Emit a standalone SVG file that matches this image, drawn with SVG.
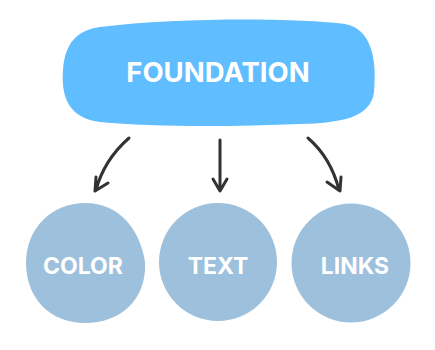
<svg xmlns="http://www.w3.org/2000/svg" width="435" height="350" viewBox="0 0 435 350">
<style>
.lbl{font-family:Inter,"Noto Sans",sans-serif;font-weight:700;fill:#fff;text-anchor:middle}
.sub{fill:#9dc0dc}
.arr{fill:none;stroke:#333;stroke-width:3;stroke-linecap:round;stroke-linejoin:round}
</style>
<rect width="435" height="350" fill="#fff"/>
<g id="foundation">
<path d="M100 27 C180 17 300 18 345 24 C372 29 377 60 374 92 C371 118 340 123 300 124 C230 127 150 127 100 122 C68 118 61 96 63 70 C65 42 78 30 100 27 Z" fill="#60bdff"/>
<text class="lbl" x="218" y="82" font-size="27.5">FOUNDATION</text>
</g>
<g id="connectors">
<path class="arr" d="M129 138 Q104 160 96 190 M96 177 L95 191 L108 183"/>
<path class="arr" d="M220 140 L220 190 M213 179 L220 191 L227 179"/>
<path class="arr" d="M308 138 Q331 158 339 190 M327 182 L340 191 L341 177"/>
</g>
<g id="color">
<path class="sub" d="M85 203 C120 203 140 230 145 262 C147 300 120 323 85 323 C50 323 26 298 26 263 C26 228 52 203 85 203 Z"/>
<text class="lbl" x="83" y="274" font-size="23">COLOR</text>
</g>
<g id="text">
<circle class="sub" cx="218" cy="262" r="59"/>
<text class="lbl" x="218" y="274" font-size="23">TEXT</text>
</g>
<g id="links">
<circle class="sub" cx="351" cy="263" r="59.5"/>
<text class="lbl" x="355" y="274" font-size="23">LINKS</text>
</g>
</svg>
